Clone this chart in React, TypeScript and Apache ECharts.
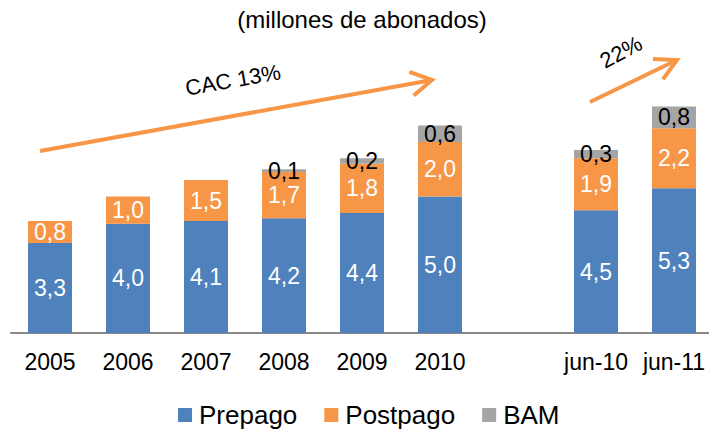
import React, { useEffect, useRef } from "react";
import * as echarts from "echarts";

const categories = ["2005", "2006", "2007", "2008", "2009", "2010", "", "jun-10", "jun-11"];
const prepago = [3.3, 4.0, 4.1, 4.2, 4.4, 5.0, null, 4.5, 5.3];
const postpago = [0.8, 1.0, 1.5, 1.7, 1.8, 2.0, null, 1.9, 2.2];
const bam = [null, null, null, 0.1, 0.2, 0.6, null, 0.3, 0.8];
const seriesNames = ["Prepago", "Postpago", "BAM"];
const titleText = "(millones de abonados)";
const growthLabels = ["CAC 13%", "22%"];

const FONT = "'Liberation Sans', Arial, sans-serif";
const ORANGE = "#F79646";

function arrow(x1: number, y1: number, x2: number, y2: number, len: number, angDeg: number) {
  const back = Math.atan2(y1 - y2, x1 - x2);
  const a = (angDeg * Math.PI) / 180;
  const p1 = [x2 + len * Math.cos(back + a), y2 + len * Math.sin(back + a)];
  const p2 = [x2 + len * Math.cos(back - a), y2 + len * Math.sin(back - a)];
  const style = { stroke: ORANGE, lineWidth: 4, fill: null as any, lineJoin: "miter" };
  return [
    { type: "line", shape: { x1, y1, x2, y2 }, style },
    { type: "polyline", shape: { points: [p1, [x2, y2], p2] }, style },
  ];
}

const fmt = (p: any) => {
  const v = Array.isArray(p.value) ? p.value[1] : p.value;
  if (v === null || v === undefined || v === "-") return "";
  return Number(v).toFixed(1).replace(".", ",");
};

export default function App() {
  const ref = useRef<HTMLDivElement>(null);
  useEffect(() => {
    if (!ref.current) return;
    const chart = echarts.init(ref.current, null, { renderer: "svg" });
    const labelBase = { show: true, position: "inside", fontSize: 23, fontFamily: FONT, formatter: fmt };
    chart.setOption({
      animation: false,
      backgroundColor: "#ffffff",
      grid: { left: 11, width: 702, top: 60, bottom: 98, containLabel: false },
      xAxis: {
        type: "category",
        data: categories,
        axisLine: { show: true, lineStyle: { color: "#888888", width: 2 } },
        axisTick: { show: false },
        axisLabel: { color: "#000", fontSize: 23, fontFamily: FONT, margin: 17, interval: 0 },
      },
      yAxis: { type: "value", min: 0, max: 10, show: false, splitLine: { show: false } },
      legend: {
        data: seriesNames,
        left: 178,
        top: 402,
        padding: 0,
        itemWidth: 14,
        itemHeight: 14,
        itemGap: 27,
        icon: "rect",
        textStyle: { fontSize: 26, fontFamily: FONT, color: "#000", padding: [0, 0, 0, 2] },
      },
      series: [
        {
          name: seriesNames[0],
          type: "bar",
          stack: "t",
          barWidth: 44,
          data: prepago,
          itemStyle: { color: "#4F81BD" },
          label: { ...labelBase, color: "#fff" },
        },
        {
          name: seriesNames[1],
          type: "bar",
          stack: "t",
          barWidth: 44,
          data: postpago,
          itemStyle: { color: ORANGE },
          label: { ...labelBase, color: "#fff" },
        },
        {
          name: seriesNames[2],
          type: "bar",
          stack: "t",
          barWidth: 44,
          data: bam,
          itemStyle: { color: "#A5A5A5" },
          label: { ...labelBase, color: "#000" },
        },
      ],
      graphic: [
        {
          type: "text",
          x: 362,
          y: 19,
          style: { text: titleText, fontSize: 24, fontFamily: FONT, fill: "#000", align: "center", verticalAlign: "middle", textAlign: "center", textVerticalAlign: "middle" },
        },
        ...arrow(40, 151, 432, 80, 24, 30),
        ...arrow(590, 102, 677, 60, 24, 28),
        {
          type: "text",
          x: 233,
          y: 80,
          rotation: (10 * Math.PI) / 180,
          style: { text: growthLabels[0], fontSize: 22, fontFamily: FONT, fill: "#000", align: "center", verticalAlign: "middle", textAlign: "center", textVerticalAlign: "middle" },
        },
        {
          type: "text",
          x: 621,
          y: 52,
          rotation: (28 * Math.PI) / 180,
          style: { text: growthLabels[1], fontSize: 22, fontFamily: FONT, fill: "#000", align: "center", verticalAlign: "middle", textAlign: "center", textVerticalAlign: "middle" },
        },
      ],
    });
    return () => chart.dispose();
  }, []);
  return (
    <div style={{ position: "absolute", left: 0, top: 0, width: 709, height: 431, overflow: "hidden" }}>
      <div ref={ref} style={{ width: 716, height: 431 }} />
    </div>
  );
}
